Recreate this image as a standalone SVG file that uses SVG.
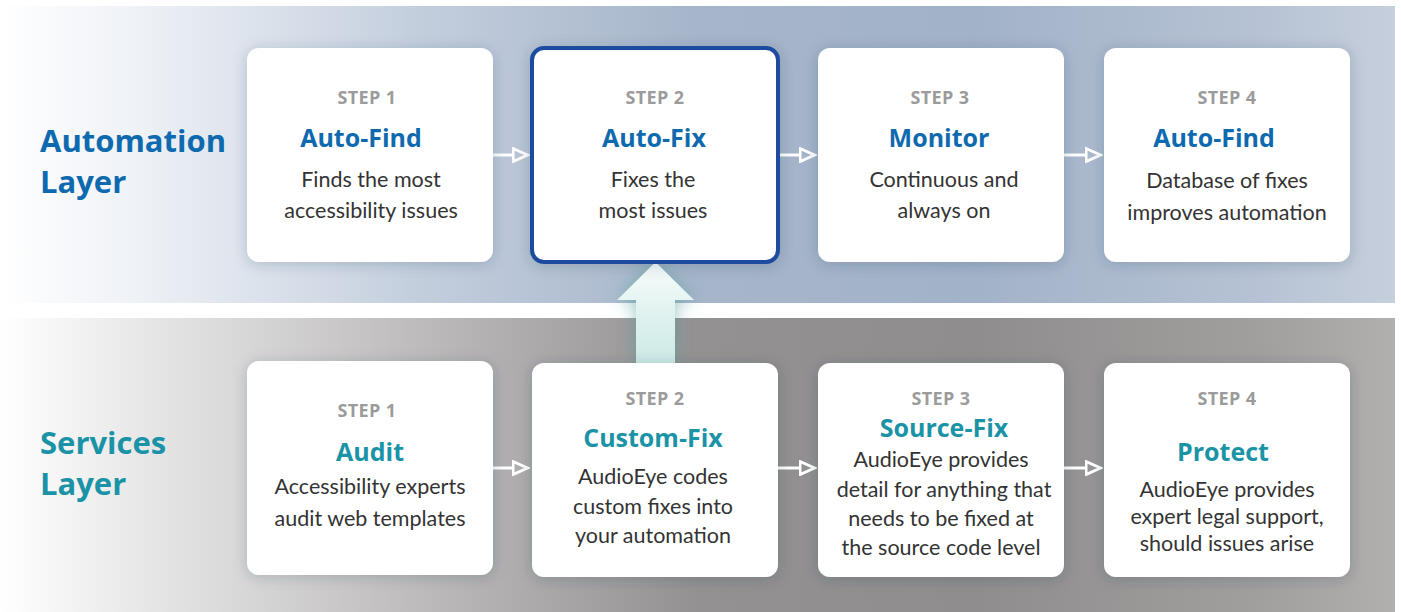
<svg xmlns="http://www.w3.org/2000/svg" width="1401" height="612" viewBox="0 0 1401 612">
<defs>
<linearGradient id="gTop" x1="0" y1="0" x2="1" y2="0">
<stop offset="0" stop-color="#ffffff"/>
<stop offset="0.1" stop-color="#eef1f6"/>
<stop offset="0.3" stop-color="#c3cedd"/>
<stop offset="0.5" stop-color="#a6b5ca"/>
<stop offset="0.7" stop-color="#a2b2c8"/>
<stop offset="0.9" stop-color="#b6c2d4"/>
<stop offset="1" stop-color="#c6cfdc"/>
</linearGradient>
<linearGradient id="gBot" x1="0" y1="0" x2="1" y2="0">
<stop offset="0" stop-color="#ffffff"/>
<stop offset="0.12" stop-color="#e4e3e3"/>
<stop offset="0.3" stop-color="#bdbbbb"/>
<stop offset="0.5" stop-color="#939191"/>
<stop offset="0.7" stop-color="#8f8d8d"/>
<stop offset="0.9" stop-color="#a19e9e"/>
<stop offset="1" stop-color="#b2afaf"/>
</linearGradient>
<linearGradient id="gArrow" x1="0" y1="0" x2="0" y2="1">
<stop offset="0" stop-color="#f7fcfb"/>
<stop offset="1" stop-color="#cbe9e5"/>
</linearGradient>
<filter id="shadow" x="-20%" y="-20%" width="140%" height="140%">
<feDropShadow dx="0" dy="2" stdDeviation="7" flood-color="#2a3550" flood-opacity="0.22"/>
</filter>
<filter id="glow" x="-50%" y="-50%" width="200%" height="200%">
<feGaussianBlur stdDeviation="9"/>
</filter>
<marker id="head" markerUnits="userSpaceOnUse" markerWidth="18" markerHeight="16" viewBox="0 0 18 16" refX="1.5" refY="8" orient="auto">
<path d="M1.5,1.5 L16,8 L1.5,14.5 Z" fill="none" stroke="#ffffff" stroke-width="3" stroke-linejoin="miter"/>
</marker>
</defs>
<style>
.box{fill:#ffffff;filter:url(#shadow)}
.step{font-family:"Open Sans","Liberation Sans",sans-serif;font-weight:700;font-size:18px;letter-spacing:0.4px;fill:#9b9b9b;text-anchor:middle}
.t1{font-family:"Open Sans","Liberation Sans",sans-serif;font-weight:700;font-size:25px;fill:#0e6aae;text-anchor:middle}
.t2{font-family:"Open Sans","Liberation Sans",sans-serif;font-weight:700;font-size:25px;fill:#1a93a7;text-anchor:middle}
.body{font-family:Lato,"Liberation Sans",sans-serif;font-size:21.5px;fill:#333333;text-anchor:middle}
.layerA{font-family:"Open Sans","Liberation Sans",sans-serif;font-weight:700;font-size:31px;fill:#0e6aae}
.layerS{font-family:"Open Sans","Liberation Sans",sans-serif;font-weight:700;font-size:31px;fill:#1a93a7}
.conn{stroke:#ffffff;stroke-width:3;fill:none;marker-end:url(#head)}
</style>
<rect x="0" y="0" width="1401" height="612" fill="#ffffff"/>
<rect id="band-automation" x="0" y="6" width="1395" height="297" fill="url(#gTop)"/>
<rect id="band-services" x="0" y="318" width="1395" height="294" fill="url(#gBot)"/>

<g id="label-automation">
<text class="layerA" x="40" y="152">Automation</text>
<text class="layerA" x="40" y="193">Layer</text>
</g>
<g id="label-services">
<text class="layerS" x="40" y="454">Services</text>
<text class="layerS" x="40" y="495">Layer</text>
</g>

<g id="up-arrow">
<path d="M617,300 L655.5,262 L694,300 L675,300 L675,364 L636,364 L636,300 Z" fill="#4e9c94" opacity="0.55" filter="url(#glow)"/>
<path d="M617,300 L655.5,262 L694,300 L675,300 L675,364 L636,364 L636,300 Z" fill="url(#gArrow)"/>
</g>

<g id="connectors">
<line class="conn" x1="493" y1="155" x2="513" y2="155"/>
<line class="conn" x1="779" y1="155" x2="800" y2="155"/>
<line class="conn" x1="1064" y1="155" x2="1086" y2="155"/>
<line class="conn" x1="493" y1="468" x2="513" y2="468"/>
<line class="conn" x1="778" y1="468" x2="800" y2="468"/>
<line class="conn" x1="1064" y1="468" x2="1086" y2="468"/>
</g>

<g id="a-step1">
<rect class="box" x="247" y="48" width="246" height="214" rx="12"/>
<text class="step" x="367" y="104">STEP 1</text>
<text class="t1" x="361" y="147">Auto-Find</text>
<text class="body" x="371" y="187">Finds the most</text>
<text class="body" x="371" y="218">accessibility issues</text>
</g>
<g id="a-step2">
<rect class="box" x="532" y="48" width="246" height="214" rx="12" stroke="#1d4c9f" stroke-width="4"/>
<text class="step" x="655" y="104">STEP 2</text>
<text class="t1" x="654" y="147">Auto-Fix</text>
<text class="body" x="653" y="187">Fixes the</text>
<text class="body" x="653" y="218">most issues</text>
</g>
<g id="a-step3">
<rect class="box" x="818" y="48" width="246" height="214" rx="12"/>
<text class="step" x="940" y="104">STEP 3</text>
<text class="t1" x="939" y="147">Monitor</text>
<text class="body" x="944" y="187">Continuous and</text>
<text class="body" x="944" y="218">always on</text>
</g>
<g id="a-step4">
<rect class="box" x="1104" y="48" width="246" height="214" rx="12"/>
<text class="step" x="1227" y="104">STEP 4</text>
<text class="t1" x="1214" y="147">Auto-Find</text>
<text class="body" x="1227" y="188">Database of fixes</text>
<text class="body" x="1227" y="220">improves automation</text>
</g>

<g id="s-step1">
<rect class="box" x="247" y="361" width="246" height="214" rx="12"/>
<text class="step" x="367" y="417">STEP 1</text>
<text class="t2" x="370" y="461">Audit</text>
<text class="body" x="370" y="494">Accessibility experts</text>
<text class="body" x="370" y="526">audit web templates</text>
</g>
<g id="s-step2">
<rect class="box" x="532" y="363" width="246" height="214" rx="12"/>
<text class="step" x="655" y="405">STEP 2</text>
<text class="t2" x="653" y="447">Custom-Fix</text>
<text class="body" x="653" y="484">AudioEye codes</text>
<text class="body" x="653" y="514">custom fixes into</text>
<text class="body" x="653" y="543">your automation</text>
</g>
<g id="s-step3">
<rect class="box" x="818" y="363" width="246" height="214" rx="12"/>
<text class="step" x="941" y="405">STEP 3</text>
<text class="t2" x="944" y="437">Source-Fix</text>
<text class="body" x="941" y="467">AudioEye provides</text>
<text class="body" x="944" y="497">detail for anything that</text>
<text class="body" x="941" y="526">needs to be fixed at</text>
<text class="body" x="941" y="555">the source code level</text>
</g>
<g id="s-step4">
<rect class="box" x="1104" y="363" width="246" height="214" rx="12"/>
<text class="step" x="1227" y="405">STEP 4</text>
<text class="t2" x="1223" y="461">Protect</text>
<text class="body" x="1227" y="497">AudioEye provides</text>
<text class="body" x="1227" y="524">expert legal support,</text>
<text class="body" x="1227" y="551">should issues arise</text>
</g>
</svg>
